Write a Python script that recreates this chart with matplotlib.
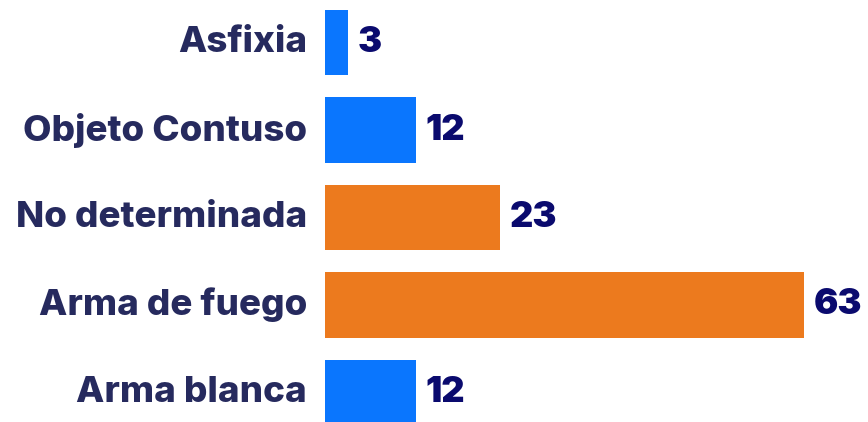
import matplotlib
matplotlib.use("Agg")
import matplotlib.pyplot as plt

categories = ["Asfixia", "Objeto Contuso", "No determinada", "Arma de fuego", "Arma blanca"]
values = [3, 12, 23, 63, 12]
colors = ["#0A76FE", "#0A76FE", "#EC7A1E", "#EC7A1E", "#0A76FE"]

W, H = 868, 422
fig = plt.figure(figsize=(W / 100, H / 100), dpi=100)
ax = fig.add_axes([325 / W, 0, 1 - 325 / W, 1])

pos = list(range(len(categories)))
ax.barh(pos, values, height=0.743, color=colors)
ax.set_xlim(0, 543 / 7.6)
ax.set_ylim((422 - 42.5) / 87.5, -42.5 / 87.5)
ax.axis("off")

for p, v, c in zip(pos, values, categories):
    ax.annotate(str(v), xy=(v, p), xytext=(7, 0), textcoords="offset points",
                ha="left", va="center", fontsize=26, fontweight="black",
                color="#0A0A6E", family=["Inter", "DejaVu Sans"])
    ax.annotate(c, xy=(0, p), xytext=(-13, 0), textcoords="offset points",
                ha="right", va="center", fontsize=26.5, fontweight="heavy",
                color="#262A5E", family=["Inter", "DejaVu Sans"])

fig.savefig("out.png", dpi=100)
